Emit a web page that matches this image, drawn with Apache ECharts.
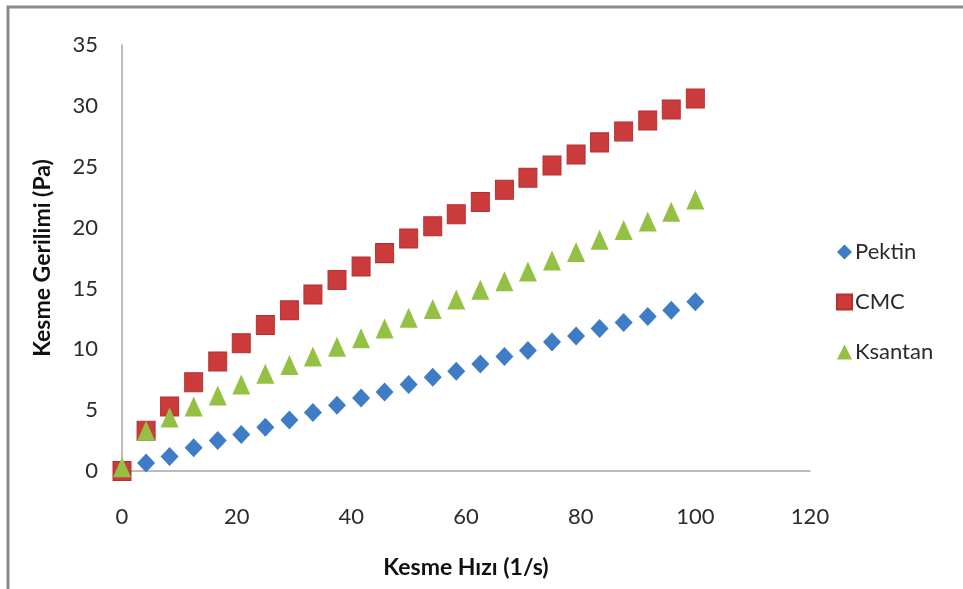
<!DOCTYPE html>
<html>
<head>
<meta charset="utf-8">
<script src="https://cdn.jsdelivr.net/npm/echarts@6/dist/echarts.min.js"></script>
<style>
  html, body { margin: 0; padding: 0; background: #ffffff; }
  #chart { width: 963px; height: 589px; }
</style>
</head>
<body>
<div id="chart"></div>
<script>
// Shear rate (1/s) at which each reading was taken
const shearRate = [0, 4.2, 8.3, 12.5, 16.7, 20.8, 25, 29.2, 33.3, 37.5, 41.7, 45.8, 50,
                   54.2, 58.3, 62.5, 66.7, 70.8, 75, 79.2, 83.3, 87.5, 91.7, 95.8, 100];

// Shear stress (Pa) for each hydrocolloid
const pektin  = [0, 0.65, 1.2, 1.9, 2.5, 3.0, 3.6, 4.2, 4.8, 5.4, 6.0, 6.5, 7.1,
                 7.7, 8.2, 8.8, 9.4, 9.9, 10.6, 11.1, 11.7, 12.2, 12.7, 13.2, 13.9];
const cmc     = [0, 3.3, 5.3, 7.3, 9.0, 10.5, 12.0, 13.2, 14.5, 15.7, 16.8, 17.9, 19.1,
                 20.1, 21.1, 22.1, 23.1, 24.1, 25.1, 26.0, 27.0, 27.9, 28.8, 29.7, 30.6];
const ksantan = [0.3, 3.3, 4.4, 5.3, 6.2, 7.1, 8.0, 8.7, 9.4, 10.2, 10.9, 11.7, 12.6,
                 13.3, 14.1, 14.9, 15.6, 16.4, 17.3, 18.0, 19.0, 19.8, 20.5, 21.3, 22.3];

const seriesNames = ['Pektin', 'CMC', 'Ksantan'];
const xTitle = 'Kesme Hızı (1/s)';
const yTitle = 'Kesme Gerilimi (Pa)';

const FONT = 'Lato, "Open Sans", sans-serif';

function pairs(ys) {
  return shearRate.map((x, i) => [x, ys[i]]);
}

const chart = echarts.init(document.getElementById('chart'), null, { renderer: 'canvas' });

chart.setOption({
  animation: false,
  backgroundColor: '#ffffff',
  textStyle: { fontFamily: FONT },
  grid: { left: 122, right: 153, top: 45, bottom: 118, containLabel: false },
  xAxis: {
    type: 'value',
    min: 0, max: 120, interval: 20,
    axisLine: { show: true, onZero: false, lineStyle: { color: '#a6a6a6', width: 1.5 } },
    axisTick: { show: false },
    splitLine: { show: false },
    axisLabel: { color: '#2b2b2b', fontSize: 22, fontFamily: FONT, margin: 35 },
    name: xTitle,
    nameLocation: 'middle',
    nameGap: 85,
    nameTextStyle: { color: '#111', fontSize: 23, fontWeight: 'bold', fontFamily: FONT }
  },
  yAxis: {
    type: 'value',
    min: 0, max: 35, interval: 5,
    axisLine: { show: true, lineStyle: { color: '#a6a6a6', width: 1.5 } },
    axisTick: { show: false },
    splitLine: { show: false },
    axisLabel: { color: '#2b2b2b', fontSize: 22, fontFamily: FONT, margin: 24 },
    name: yTitle,
    nameLocation: 'middle',
    nameGap: 68,
    nameRotate: 90,
    nameTextStyle: { color: '#111', fontSize: 23, fontWeight: 'bold', fontFamily: FONT }
  },
  legend: {
    orient: 'vertical',
    left: 831,
    top: 236,
    itemGap: 28,
    itemWidth: 15,
    itemHeight: 15,
    textStyle: { color: '#2b2b2b', fontSize: 22, fontFamily: FONT, padding: [0, 0, 0, -2] },
    data: [
      { name: seriesNames[0], icon: 'diamond' },
      { name: seriesNames[1], icon: 'rect' },
      { name: seriesNames[2], icon: 'triangle' }
    ]
  },
  graphic: [{
    type: 'rect',
    shape: { x: 8, y: 7, width: 1000, height: 700 },
    style: { fill: 'none', stroke: '#8a8a8a', lineWidth: 3 },
    silent: true
  }],
  series: [
    {
      name: seriesNames[0], type: 'scatter', symbol: 'diamond', symbolSize: [18, 19],
      itemStyle: { color: '#3f7cc6', opacity: 1 },
      data: pairs(pektin)
    },
    {
      name: seriesNames[1], type: 'scatter', symbol: 'rect', symbolSize: [18, 19],
      itemStyle: { color: '#cb3b3c', borderColor: '#b52f30', borderWidth: 1, opacity: 1 },
      data: pairs(cmc)
    },
    {
      name: seriesNames[2], type: 'scatter', symbol: 'triangle', symbolSize: [18, 20],
      itemStyle: { color: '#94c143', opacity: 1 },
      data: pairs(ksantan)
    }
  ]
});
</script>
</body>
</html>
